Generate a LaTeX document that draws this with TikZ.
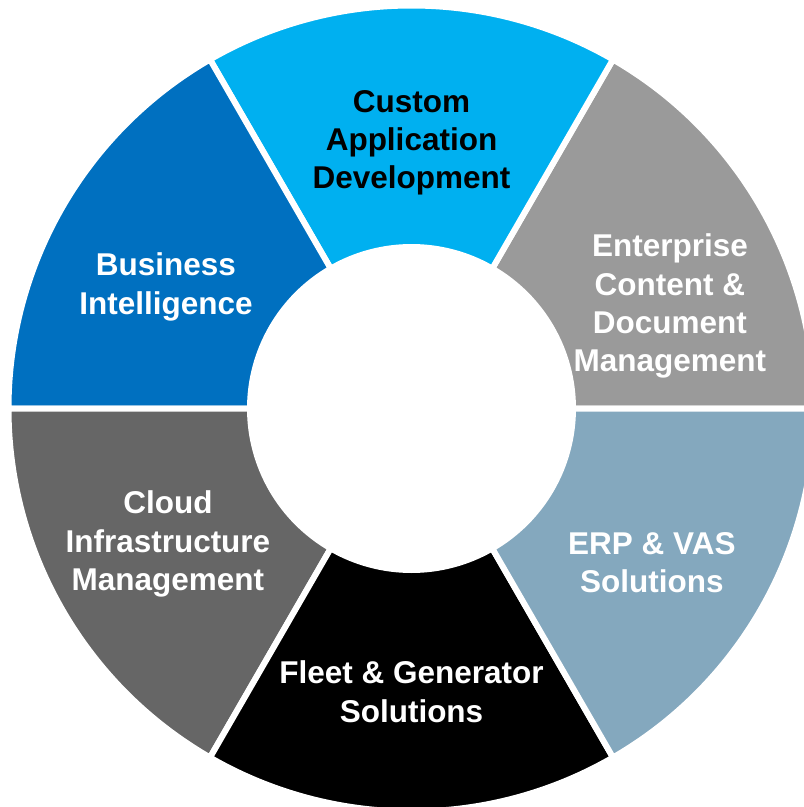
\documentclass[tikz,border=0pt]{standalone}
\usepackage{fontspec}
\setmainfont{Liberation Sans}
\usepackage{tikz}
\usetikzlibrary{calc}
\definecolor{appcyan}{HTML}{00B0F0}
\definecolor{biblue}{HTML}{0070C0}
\definecolor{ecmgray}{HTML}{9A9A9A}
\definecolor{erpsteel}{HTML}{84A8BE}
\definecolor{cloudgray}{HTML}{666666}
\def\ringpart[#1](#2:#3){\draw[#1, draw=white, line width=1.5mm] (#2:10.075) arc (#2:#3:10.075) -- (#3:4.0375) arc (#3:#2:4.0375) -- cycle;}
\tikzset{label/.style={align=center, inner sep=0pt, text=white, font=\bfseries\fontsize{22.4}{27.25}\selectfont}}

\begin{document}
\begin{tikzpicture}
		%%%%% START %%%%%
		
		\useasboundingbox (-10.2875, -9.9625) rectangle (9.8125, 10.2125);
		\clip (-10.2875, -9.9625) rectangle (9.8125, 10.2125);
		
		\ringpart[fill=ecmgray](0:60);
		\ringpart[fill=appcyan](60:120);
		\ringpart[fill=biblue](120:180);
		\ringpart[fill=cloudgray](180:240);
		\ringpart[fill=black](240:300);
		\ringpart[fill=erpsteel](300:360);
		
		\node[label, text=black] (app) at (0, 6.64) {Custom\\Application\\Development};
		\node[label] (bi) at (-6.14, 3.04) {Business\\Intelligence};
		\node[label] (ecm) at (6.46, 2.56) {Enterprise\\Content \&\\Document\\Management};
		\node[label] (erp) at (6.01, -3.86) {ERP \& VAS\\Solutions};
		\node[label] (fleet) at (0, -7.08) {Fleet \& Generator\\Solutions};
		\node[label] (cloud) at (-6.09, -3.39) {Cloud\\Infrastructure\\Management};
		
		%%%%% END %%%%%
	\end{tikzpicture}
\end{document}
